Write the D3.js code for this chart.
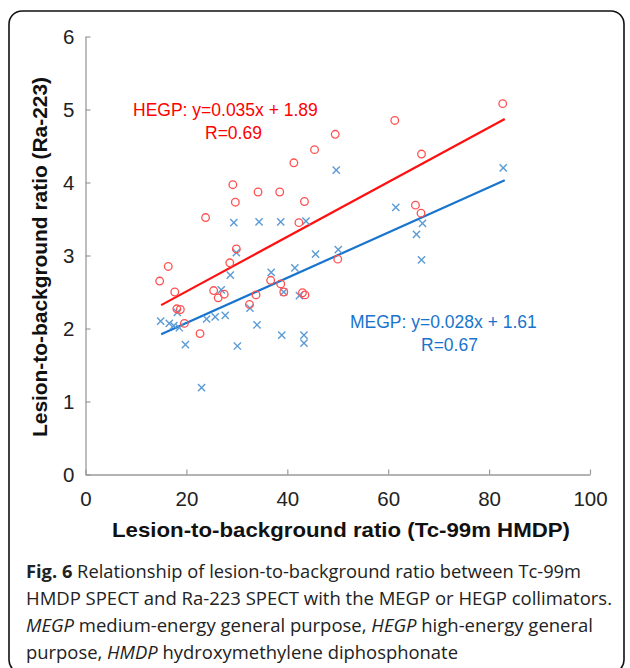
<!DOCTYPE html>
<html>
<head>
<meta charset="utf-8">
<script src="https://cdn.jsdelivr.net/npm/d3@7"></script>
<style>
  html, body { margin: 0; padding: 0; background: #fff; }
  svg { display: block; }
</style>
</head>
<body>
<script>
// ---------- data ----------
const hegpX = [14.7,16.4,17.7,18.1,18.8,19.6,22.7,23.8,25.4,26.3,27.5,28.6,29.2,29.7,29.9,32.5,33.8,34.2,36.7,38.5,38.7,39.3,41.3,42.3,43.0,43.5,43.4,45.4,49.5,50.0,61.3,65.4,66.5,66.6,82.7];
const hegpY = [2.65,2.85,2.50,2.27,2.26,2.07,1.93,3.52,2.52,2.42,2.47,2.90,3.97,3.73,3.09,2.33,2.46,3.87,2.66,3.87,2.61,2.50,4.27,3.45,2.49,2.46,3.74,4.45,4.66,2.95,4.85,3.69,3.58,4.39,5.08];
const megpX = [14.9,16.6,17.5,18.2,18.6,19.8,23.0,24.0,25.7,27.7,26.9,28.7,29.4,29.9,30.1,32.6,34.0,34.4,36.8,38.7,38.9,39.3,41.5,42.4,43.3,43.3,43.7,45.6,49.7,50.1,61.5,65.6,66.8,66.6,82.8];
const megpY = [2.10,2.07,2.04,2.22,2.01,1.78,1.19,2.13,2.16,2.18,2.53,2.73,3.45,3.04,1.76,2.28,2.05,3.46,2.77,3.46,1.91,2.50,2.83,2.45,1.91,1.80,3.47,3.02,4.17,3.08,3.66,3.29,3.44,2.94,4.20];
// fitted trend line end points (as drawn)
const hegpLineX = [15, 83.1];
const hegpLineY = [2.32, 4.87];
const megpLineX = [15, 83.1];
const megpLineY = [1.92, 4.03];
const xTicks = [0,20,40,60,80,100];
const yTicks = [0,1,2,3,4,5,6];
const xTitle = "Lesion-to-background ratio (Tc-99m HMDP)";
const yTitle = "Lesion-to-background ratio (Ra-223)";
const hegpLabel = ["HEGP: y=0.035x + 1.89", "R=0.69"];
const megpLabel = ["MEGP: y=0.028x + 1.61", "R=0.67"];

// ---------- layout ----------
const W = 630, H = 668;
const svg = d3.select("body").append("svg").attr("width", W).attr("height", H);

// frame
svg.append("rect").attr("x", 9).attr("y", 11).attr("width", 615).attr("height", 662)
  .attr("rx", 13).attr("ry", 13).attr("fill", "none").attr("stroke", "#111").attr("stroke-width", 1.6);

const x = d3.scaleLinear().domain([0,100]).range([85.5, 590]);
const y = d3.scaleLinear().domain([0,6]).range([474.5, 36.5]);

const axisColor = "#9a9a9a";
const tickFont = "'Liberation Sans', Arial, sans-serif";

const gx = svg.append("g").attr("transform", `translate(0,${y(0)})`)
  .call(d3.axisBottom(x).tickValues(xTicks).tickSizeInner(-5).tickSizeOuter(0).tickPadding(17).tickFormat(d3.format("d")));
const gy = svg.append("g").attr("transform", `translate(${x(0)},0)`)
  .call(d3.axisLeft(y).tickValues(yTicks).tickSizeInner(-5).tickSizeOuter(0).tickPadding(11).tickFormat(d3.format("d")));
[gx, gy].forEach(g => {
  g.select(".domain").attr("stroke", axisColor).attr("stroke-width", 1.3);
  g.selectAll(".tick line").attr("stroke", axisColor).attr("stroke-width", 1.2);
  g.selectAll(".tick text").attr("font-family", tickFont).attr("font-size", 20.5).attr("fill", "#222");
});
gy.selectAll(".tick text").attr("dy", "0.36em");

// axis titles
svg.append("text").attr("x", 112).attr("y", 537)
  .attr("textLength", 458).attr("lengthAdjust", "spacingAndGlyphs")
  .attr("font-family", tickFont).attr("font-weight", "bold").attr("font-size", 21).attr("fill", "#111")
  .text(xTitle);
svg.append("text").attr("transform", `translate(47,437) rotate(-90)`)
  .attr("textLength", 360).attr("lengthAdjust", "spacingAndGlyphs")
  .attr("font-family", tickFont).attr("font-weight", "bold").attr("font-size", 21).attr("fill", "#111")
  .text(yTitle);

// trend lines
const lineGen = d3.line().x(d => x(d[0])).y(d => y(d[1]));
svg.append("path").datum(d3.zip(megpLineX, megpLineY)).attr("d", lineGen)
  .attr("stroke", "#1874CD").attr("stroke-width", 2.2).attr("fill", "none");
svg.append("path").datum(d3.zip(hegpLineX, hegpLineY)).attr("d", lineGen)
  .attr("stroke", "#FF1010").attr("stroke-width", 2.2).attr("fill", "none");

// MEGP crosses
const cs = 3.6;
svg.append("g").selectAll("path").data(d3.zip(megpX, megpY)).join("path")
  .attr("d", d => { const px = x(d[0]), py = y(d[1]);
    return `M${px-cs},${py-cs}L${px+cs},${py+cs}M${px-cs},${py+cs}L${px+cs},${py-cs}`; })
  .attr("stroke", "#5B9BD5").attr("stroke-width", 1.4).attr("fill", "none");

// HEGP circles
svg.append("g").selectAll("circle").data(d3.zip(hegpX, hegpY)).join("circle")
  .attr("cx", d => x(d[0])).attr("cy", d => y(d[1])).attr("r", 3.8)
  .attr("stroke", "#FF5050").attr("stroke-width", 1.3).attr("fill", "none");

// annotations
const annFont = "'Liberation Sans', Arial, sans-serif";
svg.append("text").attr("x", 133).attr("y", 116).attr("font-family", annFont).attr("font-size", 17.5)
  .attr("fill", "#FF0000").text(hegpLabel[0]);
svg.append("text").attr("x", 205).attr("y", 139).attr("font-family", annFont).attr("font-size", 17.5)
  .attr("fill", "#FF0000").text(hegpLabel[1]);
svg.append("text").attr("x", 350).attr("y", 328).attr("font-family", annFont).attr("font-size", 17.5)
  .attr("fill", "#1874CD").text(megpLabel[0]);
svg.append("text").attr("x", 421).attr("y", 351).attr("font-family", annFont).attr("font-size", 17.5)
  .attr("fill", "#1874CD").text(megpLabel[1]);

// caption
const capFont = "'Open Sans', 'Noto Sans', sans-serif";
const cap = svg.append("g").attr("font-family", capFont).attr("font-size", 18).attr("fill", "#222");
const capLines = [
  {y: 578, len: 555, parts: [["Fig. 6", "bold", "normal"], [" Relationship of lesion-to-background ratio between Tc-99m", "normal", "normal"]]},
  {y: 605, len: 586, parts: [["HMDP SPECT and Ra-223 SPECT with the MEGP or HEGP collimators.", "normal", "normal"]]},
  {y: 632, len: 567, parts: [["MEGP", "normal", "italic"], [" medium-energy general purpose, ", "normal", "normal"], ["HEGP", "normal", "italic"], [" high-energy general", "normal", "normal"]]},
  {y: 659, len: 432, parts: [["purpose, ", "normal", "normal"], ["HMDP", "normal", "italic"], [" hydroxymethylene diphosphonate", "normal", "normal"]]}
];
capLines.forEach(l => {
  const t = cap.append("text").attr("x", 26).attr("y", l.y)
    .attr("textLength", l.len).attr("lengthAdjust", "spacingAndGlyphs").attr("xml:space", "preserve");
  l.parts.forEach(p => t.append("tspan").attr("font-weight", p[1]).attr("font-style", p[2]).text(p[0]));
});
</script>
</body>
</html>
